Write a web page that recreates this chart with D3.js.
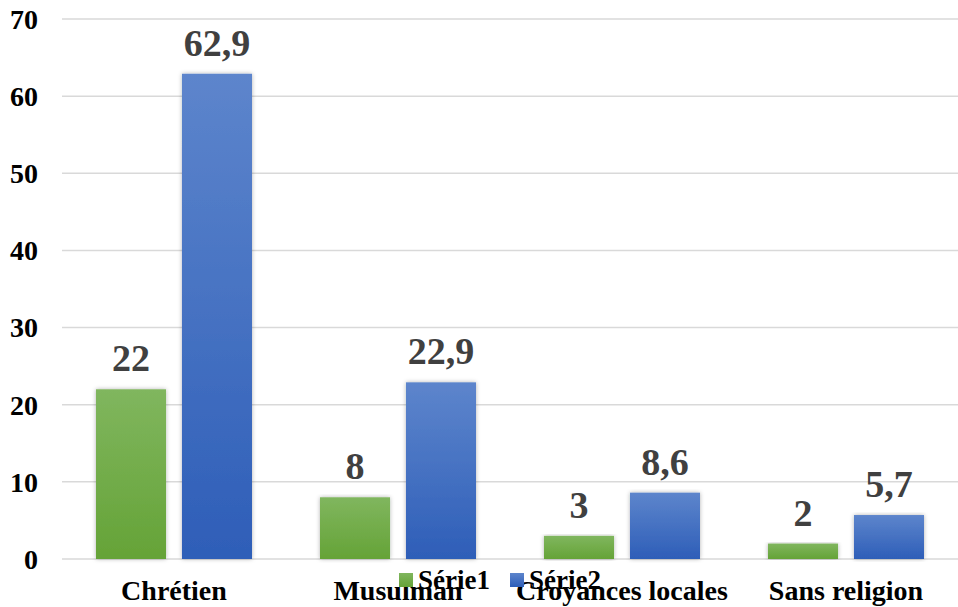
<!DOCTYPE html>
<html>
<head>
<meta charset="utf-8">
<script src="https://cdn.jsdelivr.net/npm/d3@7"></script>
<style>
  body { margin: 0; background: #fff; }
  svg { display: block; font-family: "Liberation Serif", "Times New Roman", serif; font-weight: bold; }
</style>
</head>
<body>
<svg id="chart" width="958" height="607"></svg>
<script>
var categories = ["Chrétien", "Musulman", "Croyances locales", "Sans religion"];
var serie1 = [22, 8, 3, 2];
var serie2 = [62.9, 22.9, 8.6, 5.7];
var seriesNames = ["Série1", "Série2"];
var yTicks = [0, 10, 20, 30, 40, 50, 60, 70];

var width = 958, height = 607;
var padding = { t: 19, r: 0, b: 48, l: 62 };

var svg = d3.select("#chart");

var defs = svg.append("defs");
var grads = [["gGreen", "#80b65e", "#65a337"], ["gBlue", "#5d85cc", "#2e5eb8"]];
grads.forEach(function (g) {
    var lg = defs.append("linearGradient").attr("id", g[0])
        .attr("x1", 0).attr("y1", 0).attr("x2", 0).attr("y2", 1);
    lg.append("stop").attr("offset", "0%").attr("stop-color", g[1]);
    lg.append("stop").attr("offset", "100%").attr("stop-color", g[2]);
});
var shadow = defs.append("filter").attr("id", "shadow")
    .attr("x", "-20%").attr("y", "-5%").attr("width", "140%").attr("height", "110%");
shadow.append("feDropShadow").attr("dx", 0).attr("dy", 0).attr("stdDeviation", 2)
    .attr("flood-color", "#000").attr("flood-opacity", 0.3);

// scales
var xScale = d3.scaleBand().domain(categories).range([padding.l, width - padding.r]);
var yScale = d3.scaleLinear().domain([0, 70]).range([height - padding.b, padding.t]);
var inner = d3.scaleBand().domain([0, 1]).range([34, xScale.bandwidth() - 34]).paddingInner(0.186);

// gridlines
svg.append("g").selectAll("line")
    .data(yTicks)
    .enter()
    .append("line")
    .attr("x1", padding.l)
    .attr("x2", width - padding.r)
    .attr("y1", d => yScale(d))
    .attr("y2", d => yScale(d))
    .attr("stroke", "#d9d9d9")
    .attr("stroke-width", 1.5);

// y tick labels
svg.append("g").selectAll("text")
    .data(yTicks)
    .enter()
    .append("text")
    .attr("x", 38)
    .attr("y", d => yScale(d))
    .attr("dy", "0.35em")
    .attr("text-anchor", "end")
    .attr("font-size", 28)
    .attr("fill", "#000")
    .text(d => d);

// bars
var rows = [];
categories.forEach(function (c, i) {
    rows.push({ cat: c, s: 0, v: serie1[i] });
    rows.push({ cat: c, s: 1, v: serie2[i] });
});

svg.append("g").selectAll("rect")
    .data(rows)
    .enter()
    .append("rect")
    .attr("x", d => xScale(d.cat) + inner(d.s))
    .attr("y", d => yScale(d.v))
    .attr("width", inner.bandwidth())
    .attr("height", d => yScale(0) - yScale(d.v))
    .attr("fill", d => d.s === 0 ? "url(#gGreen)" : "url(#gBlue)")
    .attr("filter", "url(#shadow)");

// value labels
svg.append("g").selectAll("text")
    .data(rows)
    .enter()
    .append("text")
    .attr("x", d => xScale(d.cat) + inner(d.s) + inner.bandwidth() / 2)
    .attr("y", d => yScale(d.v) - 18)
    .attr("text-anchor", "middle")
    .attr("font-size", 38)
    .attr("fill", "#404040")
    .text(d => String(d.v).replace(".", ","));

// category labels
svg.append("g").selectAll("text")
    .data(categories)
    .enter()
    .append("text")
    .attr("x", d => xScale(d) + xScale.bandwidth() / 2)
    .attr("y", 600)
    .attr("text-anchor", "middle")
    .attr("font-size", 28)
    .attr("fill", "#000")
    .text(d => d);

// legend (sits over the category labels, as in the original)
var legendX = [399, 510];
var legendFill = ["url(#gGreen)", "url(#gBlue)"];
var legend = svg.append("g").selectAll("g")
    .data(seriesNames)
    .enter()
    .append("g")
    .attr("transform", (d, i) => "translate(" + legendX[i] + ",573)");
legend.append("rect")
    .attr("width", 14)
    .attr("height", 14)
    .attr("fill", (d, i) => legendFill[i]);
legend.append("text")
    .attr("x", 19)
    .attr("y", 16)
    .attr("font-size", 27)
    .attr("fill", "#000")
    .text(d => d);
</script>
</body>
</html>
